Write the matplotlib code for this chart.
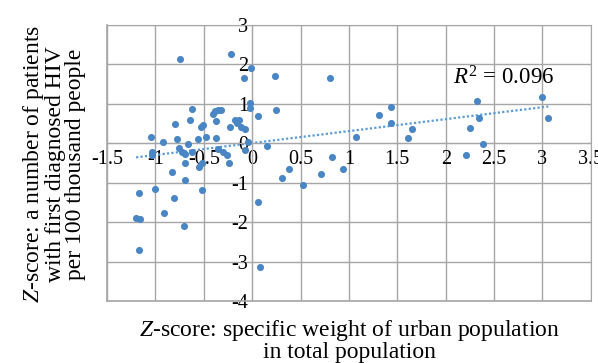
import matplotlib
matplotlib.use("Agg")
import matplotlib.pyplot as plt
import numpy as np

# z-score pairs
urban_z = [-0.75, -0.22, -0.01, -0.08, 0.24, 0.80, -0.62, -0.38, -0.35, -0.32,
           -0.40, -0.02, -0.02, 0.06, 0.25, -0.64, -0.37, -0.80, -0.51, -0.53,
           -0.18, -0.14, -0.23, -0.16, -0.12, -0.07, -1.05, -0.78, -0.92, -0.56,
           -0.48, -0.37, -0.66, -0.76, -0.73, -0.69, -0.62, -1.04, -1.04, -0.35,
           -0.30, -0.26, -0.07, -0.04, 0.15, -0.69, -0.52, -0.55, -0.24, -0.83,
           -0.69, 0.82, 0.94, 0.38, 0.31, 0.71, 0.53, -1.17, -1.00, -0.52,
           -0.81, 0.06, -0.91, -1.20, -1.16, -0.70, -1.17, 0.08, 1.43, 1.31,
           1.43, 1.07, 1.65, 1.61, 2.32, 2.34, 2.25, 2.39, 2.21, 3.00, 3.06]
hiv_z = [2.14, 2.26, 1.92, 1.65, 1.71, 1.66, 0.88, 0.82, 0.85, 0.85,
         0.74, 1.02, 0.89, 0.69, 0.85, 0.58, 0.57, 0.48, 0.46, 0.41,
         0.59, 0.59, 0.42, 0.51, 0.42, 0.35, 0.17, 0.12, 0.04, 0.12,
         0.15, 0.13, -0.03, -0.13, -0.21, -0.27, -0.23, -0.23, -0.31, -0.15,
         -0.21, -0.31, -0.18, 0.04, -0.06, -0.50, -0.51, -0.59, -0.51, -0.74,
         -0.93, -0.35, -0.66, -0.64, -0.87, -0.79, -1.07, -1.25, -1.16, -1.19,
         -1.40, -1.48, -1.77, -1.90, -1.92, -2.11, -2.71, -3.15, 0.93, 0.72,
         0.51, 0.17, 0.36, 0.14, 1.08, 0.64, 0.40, -0.03, -0.30, 1.18, 0.63]

r_squared = 0.096
x_ticks = [-1.5, -1, -0.5, 0, 0.5, 1, 1.5, 2, 2.5, 3, 3.5]
y_ticks = [-4, -3, -2, -1, 0, 1, 2, 3]

plt.rcParams['font.family'] = ['Liberation Serif', 'DejaVu Serif']
plt.rcParams['mathtext.fontset'] = 'custom'
plt.rcParams['mathtext.rm'] = 'Liberation Serif'
plt.rcParams['mathtext.it'] = 'Liberation Serif:italic'

GRID = '#a6a6a6'
DOT = '#4a86c4'

fig = plt.figure(figsize=(5.98, 3.63), dpi=100)
ax = fig.add_axes([0.179, 0.171, 0.809, 0.760])

ax.scatter(urban_z, hiv_z, s=26, color=DOT, zorder=3, linewidths=0)

# linear trend over the data range
x = np.array(urban_z)
y = np.array(hiv_z)
slope, intercept = np.polyfit(x, y, 1)
xs = np.array([x.min(), x.max()])
ax.plot(xs, slope * xs + intercept, linestyle=(0, (1, 1)), color='#5b9bd5',
        lw=1.6, zorder=2)

ax.text(2.08, 1.48, '$R^2$ = %.3f' % r_squared, fontsize=16.5)

ax.set_xlim(-1.5, 3.5)
ax.set_ylim(-4, 3)
ax.set_xticks(x_ticks)
ax.set_yticks(y_ticks)
ax.set_xticklabels(['%g' % t for t in x_ticks])
ax.set_yticklabels(['%g' % t for t in y_ticks])
ax.grid(True, color=GRID, lw=1)
ax.set_axisbelow(True)

for side in ['top', 'right']:
    ax.spines[side].set_color(GRID)
ax.spines['left'].set_position(('data', 0))
ax.spines['bottom'].set_position(('data', 0))
ax.spines['left'].set_color(GRID)
ax.spines['bottom'].set_color(GRID)
ax.tick_params(length=0, labelsize=14.5)
ax.tick_params(axis='x', pad=5)
ax.tick_params(axis='y', pad=3)

# outer frame
ax.plot([-1.5, -1.5], [-4, 3], color=GRID, lw=1.2, clip_on=False, zorder=1)
ax.plot([-1.5, 3.5], [-4, -4], color=GRID, lw=1.2, clip_on=False, zorder=1)

fig.text(0.585, 0.063, '$Z$-score: specific weight of urban population\nin total population',
         ha='center', va='center', fontsize=17, linespacing=0.95)
fig.text(0.089, 0.548, '$Z$-score: a number of patients\nwith first diagnosed HIV\nper 100 thousand people',
         ha='center', va='center', rotation=90, fontsize=17, linespacing=0.95)

fig.savefig('out.png', dpi=100)
